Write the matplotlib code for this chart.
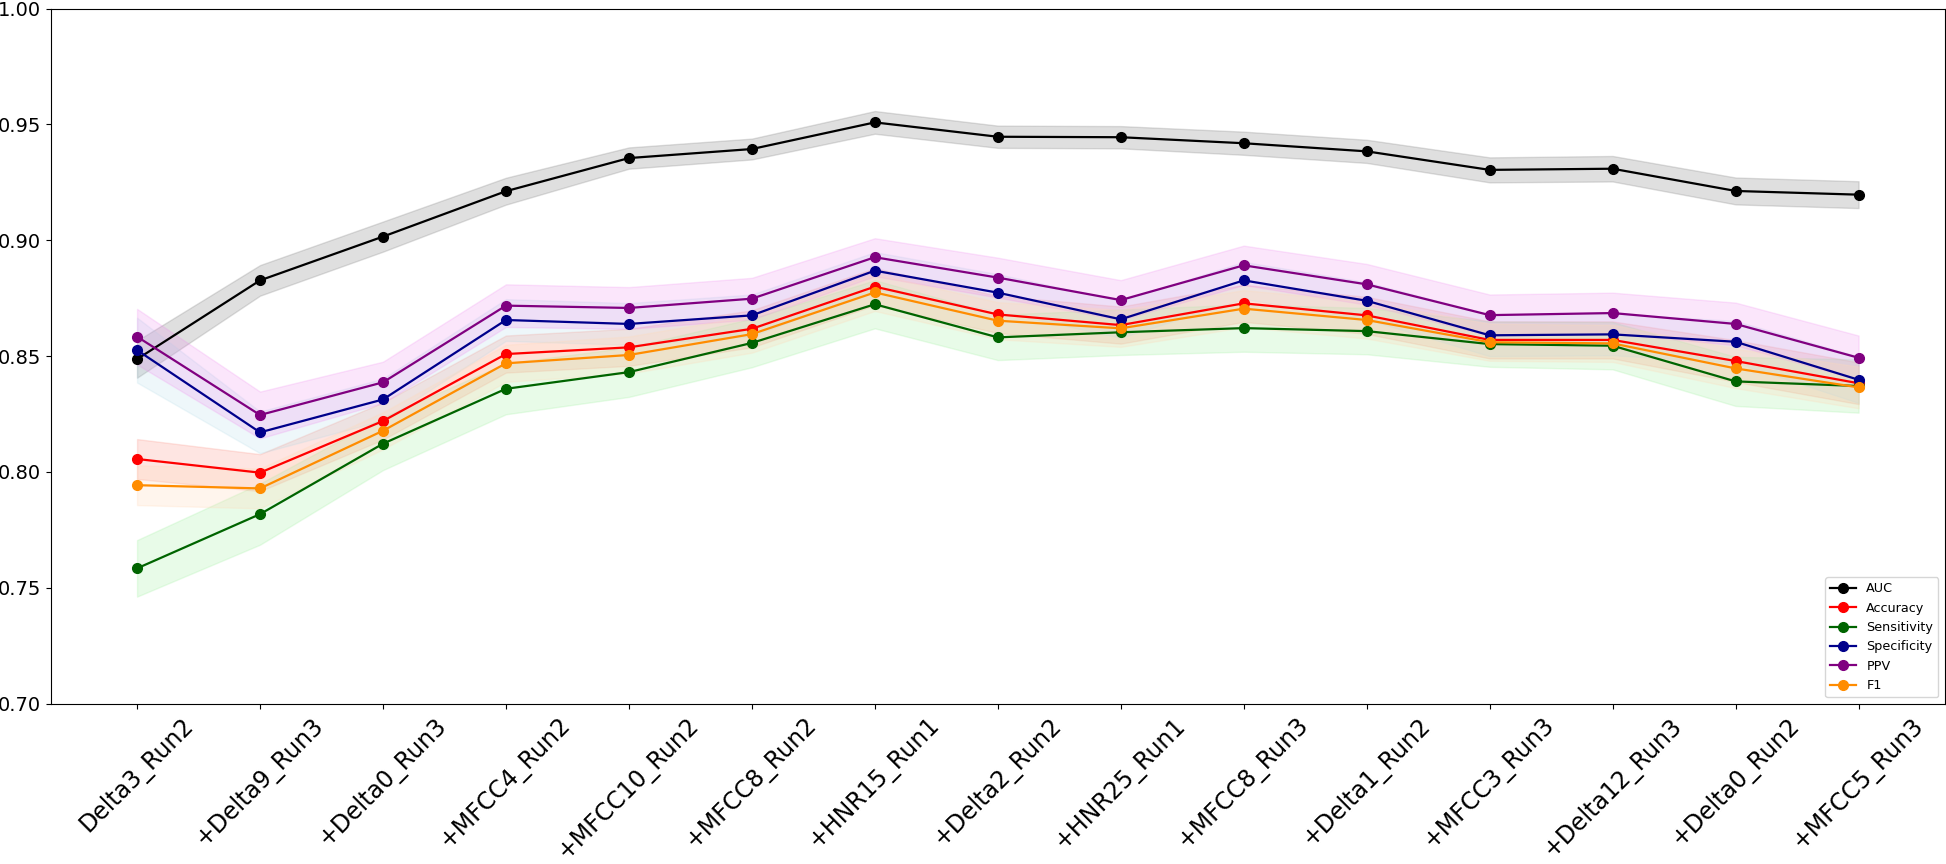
import matplotlib
matplotlib.use("Agg")
import matplotlib.pyplot as plt
import numpy as np

# feature steps on the x axis
steps = ["Delta3_Run2", "+Delta9_Run3", "+Delta0_Run3", "+MFCC4_Run2", "+MFCC10_Run2",
         "+MFCC8_Run2", "+HNR15_Run1", "+Delta2_Run2", "+HNR25_Run1", "+MFCC8_Run3",
         "+Delta1_Run2", "+MFCC3_Run3", "+Delta12_Run3", "+Delta0_Run2", "+MFCC5_Run3"]

# mean scores
auc = [0.8487, 0.8827, 0.9016, 0.9212, 0.9355, 0.9394, 0.9509, 0.9447, 0.9445, 0.9419,
       0.9384, 0.9304, 0.9309, 0.9213, 0.9197]
accuracy = [0.8056, 0.7997, 0.8220, 0.8509, 0.8538, 0.8618, 0.8800, 0.8680, 0.8634, 0.8728,
            0.8676, 0.8570, 0.8570, 0.8479, 0.8383]
sensitivity = [0.7584, 0.7818, 0.8122, 0.8359, 0.8431, 0.8557, 0.8724, 0.8581, 0.8603, 0.8621,
               0.8608, 0.8552, 0.8545, 0.8391, 0.8371]
specificity = [0.8526, 0.8171, 0.8313, 0.8656, 0.8639, 0.8676, 0.8869, 0.8774, 0.8659, 0.8827,
               0.8739, 0.8590, 0.8594, 0.8562, 0.8398]
ppv = [0.8584, 0.8246, 0.8387, 0.8718, 0.8708, 0.8748, 0.8927, 0.8839, 0.8742, 0.8892,
       0.8810, 0.8677, 0.8686, 0.8639, 0.8493]
f1 = [0.7943, 0.7929, 0.8178, 0.8469, 0.8505, 0.8595, 0.8775, 0.8653, 0.8620, 0.8705,
      0.8656, 0.8560, 0.8555, 0.8447, 0.8365]

# half width of the shaded bands
auc_sd = [0.0080, 0.0066, 0.0065, 0.0058, 0.0046, 0.0045, 0.0049, 0.0048, 0.0048, 0.0050,
          0.0050, 0.0054, 0.0055, 0.0058, 0.0058]
accuracy_sd = [0.0086, 0.0080, 0.0080, 0.0080, 0.0080, 0.0080, 0.0080, 0.0080, 0.0080, 0.0080,
               0.0080, 0.0080, 0.0080, 0.0090, 0.0090]
sensitivity_sd = [0.0122, 0.0132, 0.0114, 0.0110, 0.0107, 0.0105, 0.0104, 0.0098, 0.0098, 0.0102,
                  0.0100, 0.0098, 0.0102, 0.0106, 0.0115]
specificity_sd = [0.0140, 0.0090, 0.0090, 0.0090, 0.0090, 0.0090, 0.0080, 0.0080, 0.0080, 0.0080,
                  0.0080, 0.0090, 0.0090, 0.0090, 0.0100]
ppv_sd = [0.0120, 0.0101, 0.0089, 0.0092, 0.0090, 0.0090, 0.0082, 0.0086, 0.0086, 0.0085,
          0.0088, 0.0089, 0.0088, 0.0092, 0.0096]
f1_sd = [0.0086, 0.0086, 0.0080, 0.0080, 0.0080, 0.0080, 0.0080, 0.0080, 0.0080, 0.0080,
         0.0080, 0.0080, 0.0080, 0.0085, 0.0090]

metrics = [
    ("AUC", auc, auc_sd, "black", "gray", 0.25),
    ("Accuracy", accuracy, accuracy_sd, "red", "salmon", 0.2),
    ("Sensitivity", sensitivity, sensitivity_sd, "darkgreen", "lightgreen", 0.2),
    ("Specificity", specificity, specificity_sd, "darkblue", "lightblue", 0.2),
    ("PPV", ppv, ppv_sd, "purple", "violet", 0.2),
    ("F1", f1, f1_sd, "darkorange", "peachpuff", 0.25),
]

fig, ax = plt.subplots(figsize=(19.46, 8.64), dpi=100)
fig.subplots_adjust(left=0.0262, right=0.9993, top=0.990, bottom=0.1856)

x = np.arange(len(steps))
for name, vals, sd, col, band, a in metrics:
    vals = np.array(vals)
    sd = np.array(sd)
    ax.plot(x, vals, marker="o", color=col, label=name, linewidth=1.6, markersize=7)
    ax.fill_between(x, vals - sd, vals + sd, color=band, alpha=a)

ax.set_ylim(0.70, 1.00)
ax.set_yticks(np.arange(0.70, 1.001, 0.05))
ax.set_xticks(x)
ax.set_xticklabels(steps, rotation=45, ha="center", fontsize=17)
ax.tick_params(axis="y", labelsize=14)
ax.legend(loc="lower right", fontsize=9.2)

plt.savefig("out.png", dpi=100)
